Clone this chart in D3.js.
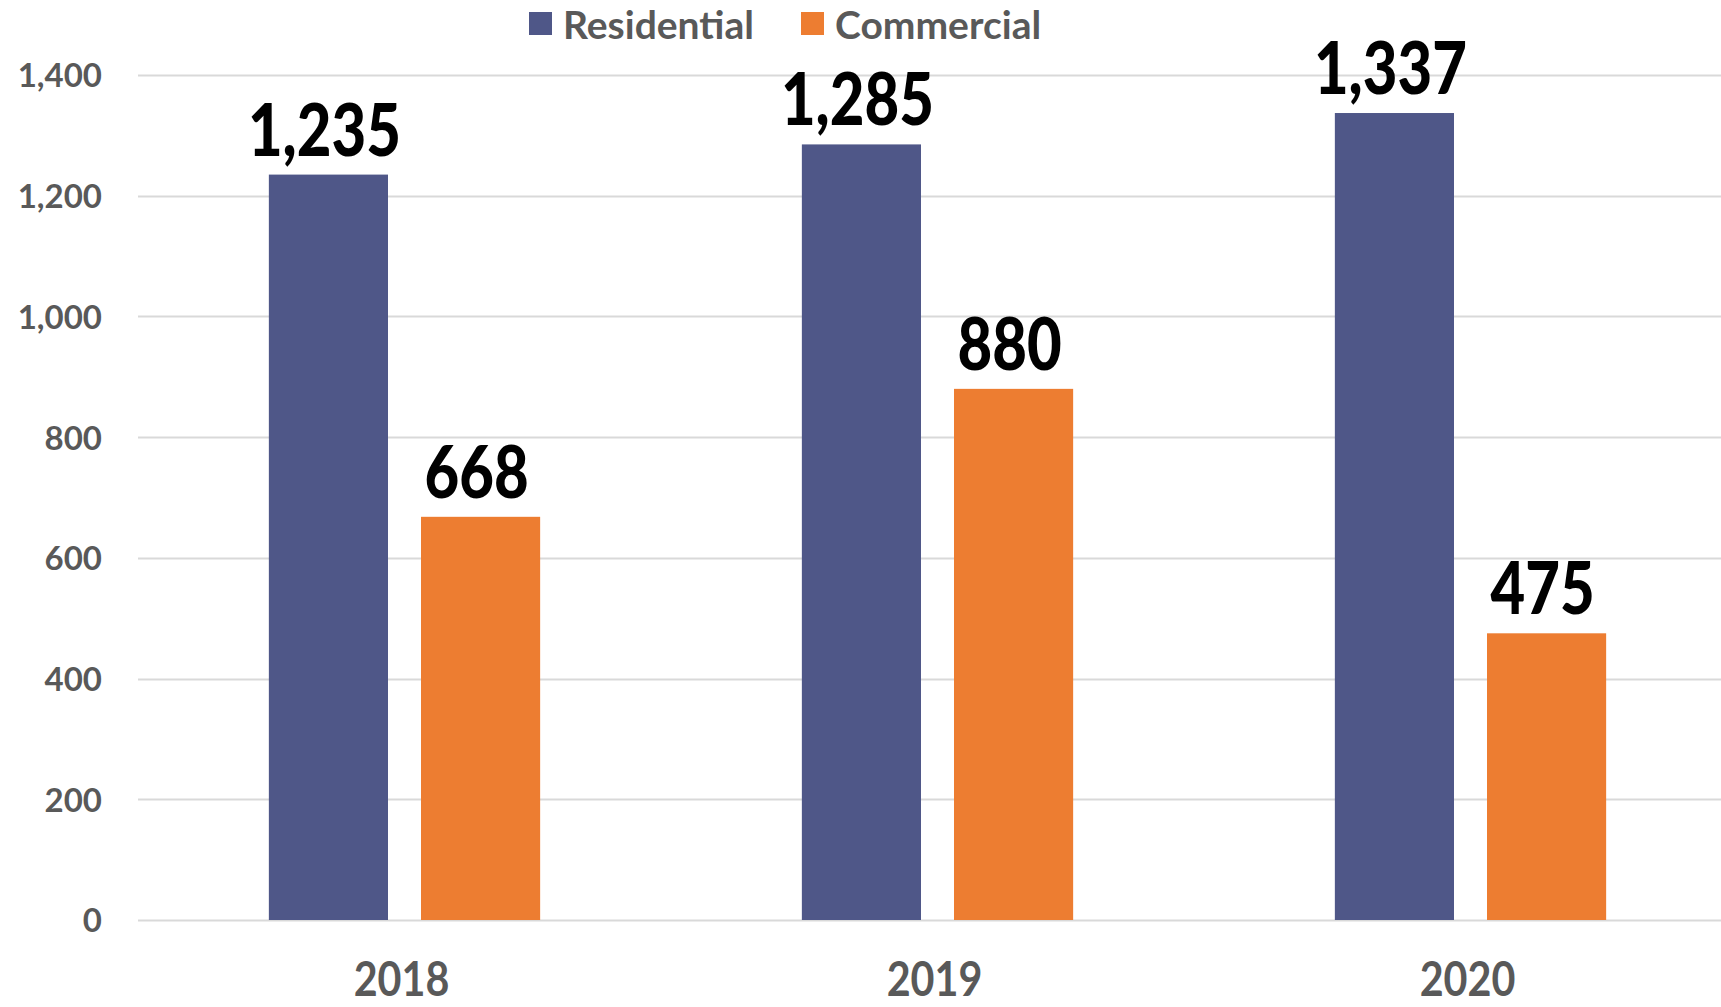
<!DOCTYPE html>
<html>
<head>
<meta charset="utf-8">
<script src="https://cdn.jsdelivr.net/npm/d3@7"></script>
<style>
  html, body { margin: 0; padding: 0; background: #fff; }
  svg { display: block; font-family: Lato, "Open Sans", sans-serif; font-weight: 700; }
</style>
</head>
<body>
<div id="chart"></div>
<script>
// data
var years = ["2018", "2019", "2020"];
var seriesNames = ["Residential", "Commercial"];
var residential = [1235, 1285, 1337];
var commercial = [668, 880, 475];
var yTicks = [0, 200, 400, 600, 800, 1000, 1200, 1400];
var colors = ["#4f5788", "#ed7d31"];

var width = 1721, height = 1007;
var margin = { top: 75, right: -16, bottom: 87, left: 138 };

var svg = d3.select("#chart").append("svg")
    .attr("width", width)
    .attr("height", height);

var y = d3.scaleLinear()
    .domain([0, 1400])
    .range([height - margin.bottom, margin.top]);

var x0 = d3.scaleBand()
    .domain(years)
    .range([margin.left, width - margin.right]);

var x1 = d3.scaleBand()
    .domain(seriesNames)
    .range([0, x0.bandwidth()])
    .paddingInner(0.217)
    .paddingOuter(0.86);

var rows = years.map(function (yr, i) {
    return { year: yr, values: [residential[i], commercial[i]] };
});

// gridlines
svg.append("g")
    .attr("class", "grid")
    .selectAll("line")
    .data(yTicks)
    .enter().append("line")
    .attr("x1", margin.left)
    .attr("x2", width)
    .attr("y1", function (d) { return Math.round(y(d)) + 0.5; })
    .attr("y2", function (d) { return Math.round(y(d)) + 0.5; })
    .style("stroke", "#d9d9d9")
    .style("stroke-width", 2);

// y axis labels
var yAxis = d3.axisLeft(y)
    .tickValues(yTicks)
    .tickSize(0)
    .tickPadding(0)
    .tickFormat(d3.format(","));

svg.append("g")
    .attr("transform", "translate(102,0)")
    .call(yAxis)
    .call(function (g) { g.select(".domain").remove(); })
    .selectAll("text")
    .attr("dy", "0.36em")
    .style("font-family", "Lato, sans-serif")
    .style("font-weight", 700)
    .style("font-size", "33px")
    .style("fill", "#595959");

// bars
var group = svg.selectAll("g.year")
    .data(rows)
    .enter().append("g")
    .attr("class", "year")
    .attr("transform", function (d) { return "translate(" + x0(d.year) + ",0)"; });

group.selectAll("rect")
    .data(function (d) { return d.values.map(function (v, j) { return { name: seriesNames[j], value: v, idx: j }; }); })
    .enter().append("rect")
    .attr("x", function (d) { return x1(d.name); })
    .attr("width", x1.bandwidth())
    .attr("y", function (d) { return y(d.value); })
    .attr("height", function (d) { return y(0) - y(d.value); })
    .style("fill", function (d) { return colors[d.idx]; });

// value labels, narrowed to mimic the condensed face
group.selectAll("text.value")
    .data(function (d) { return d.values.map(function (v, j) { return { name: seriesNames[j], value: v }; }); })
    .enter().append("text")
    .attr("class", "value")
    .attr("transform", function (d) {
        return "translate(" + (x1(d.name) + x1.bandwidth() / 2 - 4) + "," + (y(d.value) - 19) + ") scale(0.82,1)";
    })
    .attr("text-anchor", "middle")
    .style("font-size", "73px")
    .style("font-weight", 900)
    .style("fill", "#000")
    .text(function (d) { return d3.format(",")(d.value); });

// x axis labels
var xAxis = d3.axisBottom(x0).tickSize(0).tickPadding(0);
var xg = svg.append("g")
    .attr("transform", "translate(-3,996)")
    .call(xAxis)
    .call(function (g) { g.select(".domain").remove(); });

xg.selectAll("text")
    .attr("dy", 0)
    .attr("y", 0)
    .attr("transform", "scale(0.86,1)")
    .style("font-family", "Lato, sans-serif")
    .style("font-weight", 700)
    .style("font-size", "48px")
    .style("fill", "#595959");

// legend
var legend = svg.append("g")
    .selectAll("g")
    .data(seriesNames)
    .enter().append("g")
    .attr("transform", function (d, i) { return "translate(" + [529, 801][i] + ",0)"; });

legend.append("rect")
    .attr("y", 12)
    .attr("width", 23)
    .attr("height", 23)
    .style("fill", function (d, i) { return colors[i]; });

legend.append("text")
    .attr("x", 34)
    .attr("y", 39)
    .style("font-size", "39px")
    .style("fill", "#595959")
    .text(function (d) { return d; });
</script>
</body>
</html>
